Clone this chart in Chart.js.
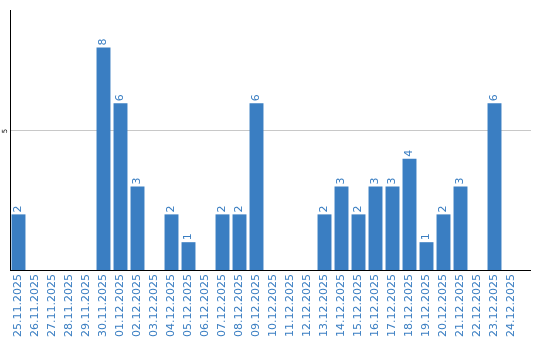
<!DOCTYPE html>
<html><head><meta charset="utf-8">
<script src="https://cdn.jsdelivr.net/npm/chart.js@4/dist/chart.umd.min.js"></script>
<style>html,body{margin:0;padding:0;background:#fff}#wrap{width:540px;height:340px}</style>
</head><body><div id="wrap"><canvas id="c"></canvas></div>
<script>
const categories = ["25.11.2025","26.11.2025","27.11.2025","28.11.2025","29.11.2025","30.11.2025","01.12.2025","02.12.2025","03.12.2025","04.12.2025","05.12.2025","06.12.2025","07.12.2025","08.12.2025","09.12.2025","10.12.2025","11.12.2025","12.12.2025","13.12.2025","14.12.2025","15.12.2025","16.12.2025","17.12.2025","18.12.2025","19.12.2025","20.12.2025","21.12.2025","22.12.2025","23.12.2025","24.12.2025"];
const values = [2,0,0,0,0,8,6,3,0,2,1,0,2,2,6,0,0,0,2,3,2,3,3,4,1,2,3,0,6,0];
const yTicks = [5];
const yMax = 9.35;
const BLUE = "#3a7ec2";
const EXTEND = 11;

const align = p => Math.round(p - 0.5) + 0.5;

const labelPlugin = {
  id: "vlabels",
  afterDatasetsDraw(chart) {
    const ctx = chart.ctx;
    const meta = chart.getDatasetMeta(0);
    const ys = chart.scales.y;
    const area = chart.chartArea;
    ctx.save();
    ctx.lineWidth = 1;
    ctx.strokeStyle = "#c8c8c8";
    yTicks.forEach(t => {
      const py = align(ys.getPixelForValue(t));
      ctx.beginPath(); ctx.moveTo(area.right, py); ctx.lineTo(area.right + EXTEND, py); ctx.stroke();
    });
    ctx.strokeStyle = "#000";
    const by = align(area.bottom);
    ctx.beginPath(); ctx.moveTo(area.right - 1, by); ctx.lineTo(area.right + EXTEND, by); ctx.stroke();

    ctx.fillStyle = BLUE;
    ctx.font = "11px 'DejaVu Sans'";
    ctx.textAlign = "left";
    ctx.textBaseline = "middle";
    meta.data.forEach((bar, i) => {
      const v = values[i];
      if (!v) return;
      ctx.save();
      ctx.translate(bar.x, bar.y - 2);
      ctx.rotate(-Math.PI / 2);
      ctx.fillText(String(v), 0, 0);
      ctx.restore();
    });
    ctx.fillStyle = "#000";
    ctx.font = "7px 'DejaVu Sans'";
    ctx.textAlign = "center";
    yTicks.forEach(t => {
      ctx.save();
      ctx.translate(ys.left - 5, ys.getPixelForValue(t));
      ctx.rotate(-Math.PI / 2);
      ctx.fillText(String(t), 0, 0);
      ctx.restore();
    });
    ctx.restore();
  }
};

new Chart(document.getElementById("c"), {
  type: "bar",
  data: { labels: categories, datasets: [{ data: values, backgroundColor: BLUE, barPercentage: 0.82, categoryPercentage: 1.0 }] },
  options: {
    responsive: true, maintainAspectRatio: false, animation: false,
    layout: { padding: { left: 10, right: 20, top: 10, bottom: 0 } },
    plugins: { legend: { display: false }, tooltip: { enabled: false } },
    scales: {
      x: {
        afterFit: s => { s.height = 70; },
        grid: { display: false, drawTicks: false },
        border: { display: true, color: "#000", width: 1 },
        ticks: { color: BLUE, font: { family: "DejaVu Sans", size: 11 }, minRotation: 90, maxRotation: 90, autoSkip: false, padding: 4 }
      },
      y: {
        min: 0, max: yMax,
        afterBuildTicks: s => { s.ticks = yTicks.map(v => ({ value: v })); },
        afterFit: s => { s.width = 0; },
        grid: { color: "#c8c8c8", drawTicks: false },
        border: { display: true, color: "#000", width: 1 },
        ticks: { display: false }
      }
    }
  },
  plugins: [labelPlugin]
});
</script></body></html>
